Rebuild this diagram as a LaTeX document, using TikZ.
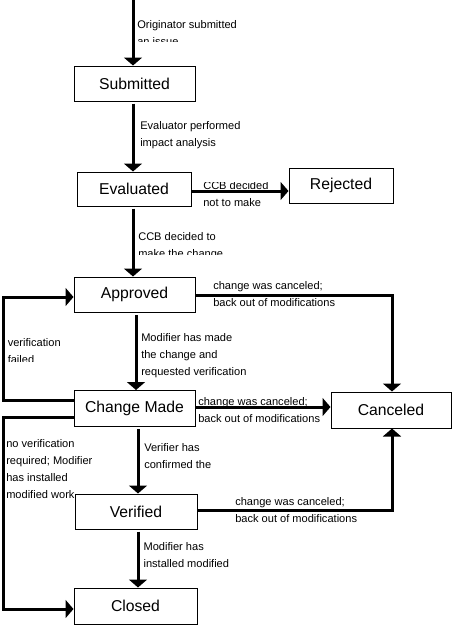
\documentclass[tikz,border=0pt]{standalone}
\usepackage{fontspec}
\setmainfont{Liberation Sans}
\usetikzlibrary{arrows.meta}
\begin{document}
\begin{tikzpicture}[x=0.75pt,y=-0.75pt,
  state/.style={draw=black,line width=0.75pt,rectangle,inner sep=0pt,font=\fontsize{11.8}{14}\selectfont},
  flow/.style={line width=2.25pt,-{Triangle[length=6pt,width=13.5pt]}},
  lbl/.style={anchor=base west,inner sep=0pt,font=\fontsize{8.3}{12.8}\selectfont}]
\useasboundingbox (0,0) rectangle (452,625);
\fill[white] (0,0) rectangle (452,625);
% states
\node[state,minimum width=90.75pt,minimum height=26.25pt] (sub) at (134.5,83.5) {Submitted};
\node[state,minimum width=85.5pt,minimum height=25.5pt] (eva) at (134,189) {Evaluated};
\node[state,minimum width=78pt,minimum height=26.25pt] (rej) at (341,185.5) {Rejected};
\node[state,minimum width=90.75pt,minimum height=26.25pt] (app) at (134.5,294.5) {Approved};
\node[state,minimum width=90.75pt,minimum height=27pt] (chg) at (134.5,408.5) {Change Made};
\node[state,minimum width=90pt,minimum height=27pt] (can) at (391,410) {Canceled};
\node[state,minimum width=91.5pt,minimum height=26.25pt] (ver) at (136,511.5) {Verified};
\node[state,minimum width=92.25pt,minimum height=27pt] (clo) at (135.5,606) {Closed};
% guide coordinates
\coordinate (top) at (133,0);
\coordinate (xa) at (133,0);
\coordinate (xb) at (136,0);
\coordinate (xc) at (138,0);
\coordinate (xr) at (392,0);
\coordinate (xl) at (3,0);
\coordinate (ya) at (0,191);
\coordinate (yb) at (0,295);
\coordinate (yc) at (0,407);
\coordinate (yd) at (0,510);
\coordinate (ye) at (0,400);
\coordinate (yf) at (0,297);
\coordinate (yg) at (0,417);
\coordinate (yh) at (0,609);
% connectors
\draw[flow] (top) -- (top |- sub.north);
\draw[flow,shorten <=1.5pt] (sub.south -| xa) -- (eva.north -| xa);
\draw[flow] (eva.east |- ya) -- (rej.west |- ya);
\draw[flow,shorten <=1.5pt] (eva.south -| xa) -- (app.north -| xa);
\draw[flow] (app.east |- yb) -| (xr |- can.north);
\draw[flow,shorten <=2pt] (app.south -| xb) -- (chg.north -| xb);
\draw[flow] (chg.west |- ye) -| (xl |- yf) -- (app.west |- yf);
\draw[flow] (chg.east |- yc) -- (can.west |- yc);
\draw[flow] (chg.west |- yg) -| (xl |- yh) -- (clo.west |- yh);
\draw[flow,shorten <=1.5pt] (chg.south -| xc) -- (ver.north -| xc);
\draw[flow] (ver.east |- yd) -| (xr |- can.south);
\draw[flow,shorten <=1.5pt] (ver.south -| xc) -- (clo.north -| xc);
% labels
\begin{scope}
\clip (100,0) rectangle (300,41);
\node[lbl] (l1) at (137,28) {\begin{tabular}[t]{@{}l@{}}Originator submitted\\an issue\end{tabular}};
\end{scope}
\node[lbl] (l2) at (140,129) {\begin{tabular}[t]{@{}l@{}}Evaluator performed\\impact analysis\end{tabular}};
\begin{scope}
\clip (195,182.5) rectangle (289,215);
\node[lbl] (l3) at (203,189.5) {\begin{tabular}[t]{@{}l@{}}CCB decided\\not to make\end{tabular}};
\end{scope}
\begin{scope}
\clip (136,220) rectangle (300,254);
\node[lbl] (l4) at (138,240.7) {\begin{tabular}[t]{@{}l@{}}CCB decided to\\make the change\end{tabular}};
\end{scope}
\node[lbl] (l5) at (213,289.5) {\begin{tabular}[t]{@{}l@{}}change was canceled;\\back out of modifications\end{tabular}};
\node[lbl] (l6) at (141,341.7) {\begin{tabular}[t]{@{}l@{}}Modifier has made\\the change and\\requested verification\end{tabular}};
\begin{scope}
\clip (5,330) rectangle (70,361);
\node[lbl] (l7) at (7.5,346.7) {\begin{tabular}[t]{@{}l@{}}verification\\failed\end{tabular}};
\end{scope}
\node[lbl] (l8) at (198,405) {\begin{tabular}[t]{@{}l@{}}change was canceled;\\back out of modifications\end{tabular}};
\node[lbl] (l9) at (6,447.7) {\begin{tabular}[t]{@{}l@{}}no verification\\required; Modifier\\has installed\\modified work\end{tabular}};
\node[lbl] (l10) at (144,451.7) {\begin{tabular}[t]{@{}l@{}}Verifier has\\confirmed the\end{tabular}};
\node[lbl] (l11) at (235,505.7) {\begin{tabular}[t]{@{}l@{}}change was canceled;\\back out of modifications\end{tabular}};
\node[lbl] (l12) at (143.3,550.7) {\begin{tabular}[t]{@{}l@{}}Modifier has\\installed modified\end{tabular}};
\end{tikzpicture}
\end{document}
